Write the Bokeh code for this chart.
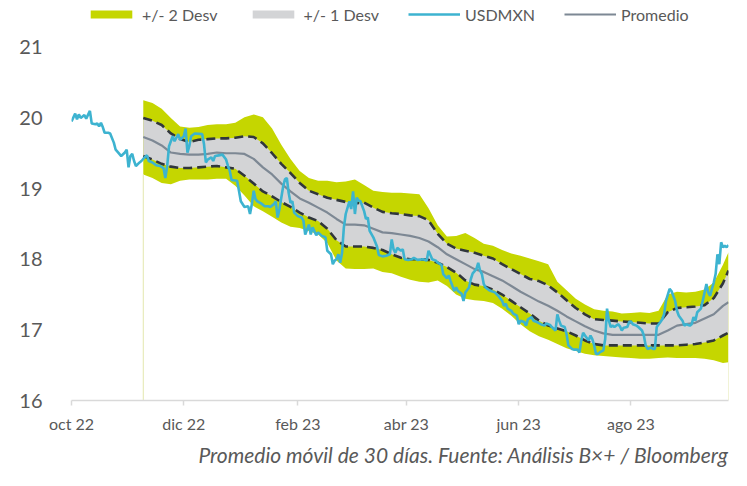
import pandas as pd
from bokeh.plotting import figure
from bokeh.models import Range1d, FixedTicker, Legend, LegendItem, Title
from bokeh.embed import file_html
from bokeh.resources import INLINE

# ---------------- data ----------------
usd_dates = [
    "2022-10-01", "2022-10-03", "2022-10-04", "2022-10-05", "2022-10-06", "2022-10-08", "2022-10-09", "2022-10-11",
    "2022-10-12", "2022-10-14", "2022-10-15", "2022-10-16", "2022-10-17", "2022-10-18", "2022-10-19", "2022-10-21",
    "2022-10-22", "2022-10-24", "2022-10-25", "2022-10-27", "2022-10-28", "2022-10-30", "2022-10-31",
    "2022-11-01", "2022-11-02", "2022-11-03", "2022-11-04", "2022-11-05", "2022-11-07", "2022-11-08", "2022-11-10",
    "2022-11-11", "2022-11-12", "2022-11-14", "2022-11-16", "2022-11-18", "2022-11-20", "2022-11-21", "2022-11-22",
    "2022-11-23", "2022-11-25", "2022-11-26", "2022-11-28", "2022-11-29",
    "2022-12-01", "2022-12-02", "2022-12-03", "2022-12-04", "2022-12-05", "2022-12-07", "2022-12-11", "2022-12-12",
    "2022-12-13", "2022-12-14", "2022-12-16", "2022-12-17", "2022-12-18", "2022-12-20", "2022-12-22", "2022-12-24",
    "2022-12-25", "2022-12-26", "2022-12-27", "2022-12-30", "2022-12-31",
    "2023-01-01", "2023-01-03", "2023-01-05", "2023-01-06", "2023-01-07", "2023-01-08", "2023-01-09", "2023-01-10",
    "2023-01-12", "2023-01-14", "2023-01-16", "2023-01-17", "2023-01-19", "2023-01-20", "2023-01-21", "2023-01-22",
    "2023-01-24", "2023-01-25", "2023-01-26", "2023-01-27", "2023-01-28", "2023-01-29", "2023-01-30",
    "2023-02-01", "2023-02-03", "2023-02-04", "2023-02-05", "2023-02-07", "2023-02-08", "2023-02-09", "2023-02-11",
    "2023-02-12", "2023-02-14", "2023-02-16", "2023-02-17", "2023-02-19", "2023-02-20", "2023-02-21", "2023-02-22",
    "2023-02-23", "2023-02-24", "2023-02-25", "2023-02-26", "2023-02-27",
    "2023-03-01", "2023-03-02", "2023-03-03", "2023-03-04", "2023-03-05", "2023-03-06", "2023-03-07", "2023-03-09",
    "2023-03-10", "2023-03-11", "2023-03-12", "2023-03-14", "2023-03-16", "2023-03-17", "2023-03-19", "2023-03-21",
    "2023-03-23", "2023-03-24", "2023-03-25", "2023-03-26", "2023-03-27", "2023-03-29", "2023-03-30", "2023-03-31",
    "2023-04-02", "2023-04-04", "2023-04-05", "2023-04-07", "2023-04-10", "2023-04-12", "2023-04-13", "2023-04-15",
    "2023-04-17", "2023-04-18", "2023-04-20", "2023-04-21", "2023-04-23", "2023-04-24", "2023-04-25", "2023-04-27",
    "2023-04-28", "2023-04-29",
    "2023-05-01", "2023-05-02", "2023-05-03", "2023-05-05", "2023-05-06", "2023-05-07", "2023-05-09", "2023-05-10",
    "2023-05-11", "2023-05-12", "2023-05-13", "2023-05-14", "2023-05-16", "2023-05-17", "2023-05-19", "2023-05-21",
    "2023-05-23", "2023-05-24", "2023-05-25", "2023-05-26", "2023-05-28", "2023-05-29", "2023-05-31",
    "2023-06-01", "2023-06-02", "2023-06-04", "2023-06-05", "2023-06-06", "2023-06-08", "2023-06-09", "2023-06-11",
    "2023-06-13", "2023-06-15", "2023-06-16", "2023-06-18", "2023-06-19", "2023-06-21", "2023-06-22", "2023-06-23",
    "2023-06-24", "2023-06-26", "2023-06-27", "2023-06-28", "2023-06-30",
    "2023-07-01", "2023-07-03", "2023-07-04", "2023-07-05", "2023-07-06", "2023-07-07", "2023-07-09", "2023-07-10",
    "2023-07-11", "2023-07-12", "2023-07-13", "2023-07-14", "2023-07-15", "2023-07-17", "2023-07-18", "2023-07-19",
    "2023-07-20", "2023-07-21", "2023-07-22", "2023-07-23", "2023-07-25", "2023-07-26", "2023-07-27", "2023-07-28",
    "2023-07-30", "2023-07-31",
    "2023-08-01", "2023-08-02", "2023-08-04", "2023-08-05", "2023-08-07", "2023-08-08", "2023-08-09", "2023-08-10",
    "2023-08-12", "2023-08-13", "2023-08-14", "2023-08-15", "2023-08-17", "2023-08-18", "2023-08-19", "2023-08-20",
    "2023-08-22", "2023-08-23", "2023-08-25", "2023-08-26", "2023-08-27", "2023-08-29", "2023-08-30", "2023-08-31",
    "2023-09-02", "2023-09-03", "2023-09-04", "2023-09-05", "2023-09-06", "2023-09-08", "2023-09-09", "2023-09-11",
    "2023-09-12", "2023-09-13", "2023-09-14", "2023-09-15", "2023-09-16", "2023-09-17", "2023-09-18", "2023-09-19",
    "2023-09-20", "2023-09-21", "2023-09-22", "2023-09-23",
]
usd_vals = [
    19.95, 20.06, 19.98, 20.05, 20.00, 20.04, 19.99, 20.10, 19.92, 19.91, 19.92, 19.88, 19.93, 19.87, 19.79, 19.79,
    19.78, 19.65, 19.55, 19.49, 19.46, 19.51, 19.55,
    19.30, 19.46, 19.49, 19.39, 19.32, 19.37, 19.39, 19.45, 19.47, 19.39, 19.37, 19.33, 19.32, 19.29, 19.15, 19.32,
    19.60, 19.74, 19.67, 19.77, 19.69,
    19.74, 19.85, 19.51, 19.60, 19.74, 19.78, 19.77, 19.63, 19.37, 19.41, 19.44, 19.39, 19.46, 19.47, 19.48, 19.41,
    19.32, 19.25, 19.12, 19.11, 18.97,
    18.82, 18.74, 18.75, 18.64, 18.78, 18.97, 18.85, 18.82, 18.79, 18.75, 18.75, 18.74, 18.78, 18.82, 18.59, 18.71,
    19.03, 19.13, 19.15, 18.94, 18.80, 18.82, 18.66,
    18.61, 18.59, 18.55, 18.35, 18.49, 18.35, 18.45, 18.34, 18.38, 18.33, 18.31, 18.12, 18.07, 17.93, 17.98, 18.00,
    18.07, 17.95, 18.09, 18.45, 18.64,
    18.82, 18.71, 18.96, 18.64, 18.87, 18.83, 18.82, 18.68, 18.57, 18.59, 18.40, 18.31, 18.18, 18.06, 18.04, 18.05,
    18.07, 18.28, 18.14, 18.09, 18.16, 18.12, 18.14, 18.00,
    17.99, 18.00, 18.02, 17.99, 18.00, 17.98, 18.12, 18.00, 17.98, 17.95, 17.92, 17.79, 17.73, 17.77, 17.69, 17.55,
    17.60, 17.55,
    17.51, 17.41, 17.53, 17.60, 17.72, 17.80, 17.86, 17.95, 17.84, 17.79, 17.65, 17.60, 17.56, 17.55, 17.53, 17.48,
    17.41, 17.34, 17.37, 17.30, 17.27, 17.23, 17.20,
    17.08, 17.13, 17.11, 17.06, 17.15, 17.18, 17.13, 17.11, 17.08, 17.06, 17.09, 17.07, 17.04, 16.99, 17.22, 17.13,
    17.06, 17.04, 16.94, 16.78, 16.73,
    16.72, 16.72, 16.68, 16.85, 16.96, 16.92, 16.85, 16.92, 16.87, 16.78, 16.66, 16.66, 16.68, 16.71, 16.87, 17.30,
    17.13, 17.04, 17.06, 17.04, 17.08, 17.05, 16.99, 17.03, 17.04, 17.11,
    17.12, 17.08, 17.06, 17.04, 16.99, 16.92, 16.78, 16.73, 16.75, 16.73, 16.73, 17.04, 17.11, 17.15, 17.22, 17.41,
    17.58, 17.55, 17.41, 17.27, 17.20, 17.13, 17.06, 17.08,
    17.06, 17.08, 17.18, 17.13, 17.25, 17.30, 17.41, 17.65, 17.53, 17.48, 17.58, 17.67, 17.79, 18.07, 17.93, 18.24,
    18.17, 18.19, 18.17, 18.20,
]

band_dates = [
    "2022-11-09", "2022-11-14", "2022-11-19", "2022-11-24", "2022-11-29", "2022-12-04", "2022-12-09", "2022-12-14",
    "2022-12-19", "2022-12-24", "2022-12-29", "2023-01-03", "2023-01-08", "2023-01-13", "2023-01-18", "2023-01-23",
    "2023-01-28", "2023-02-02", "2023-02-07", "2023-02-12", "2023-02-17", "2023-02-22", "2023-02-27", "2023-03-04",
    "2023-03-09", "2023-03-14", "2023-03-19", "2023-03-24", "2023-03-29", "2023-04-03", "2023-04-08", "2023-04-13",
    "2023-04-18", "2023-04-23", "2023-04-28", "2023-05-03", "2023-05-08", "2023-05-13", "2023-05-18", "2023-05-23",
    "2023-05-28", "2023-06-02", "2023-06-07", "2023-06-12", "2023-06-17", "2023-06-22", "2023-06-27", "2023-07-02",
    "2023-07-07", "2023-07-12", "2023-07-17", "2023-07-22", "2023-07-27", "2023-08-01", "2023-08-06", "2023-08-11",
    "2023-08-16", "2023-08-21", "2023-08-26", "2023-08-31", "2023-09-05", "2023-09-10", "2023-09-15", "2023-09-20",
    "2023-09-23",
]
promedio = [
    19.73, 19.68, 19.61, 19.51, 19.49, 19.48, 19.48, 19.49, 19.51, 19.50,
    19.50, 19.49, 19.42, 19.30, 19.20, 19.07, 18.96, 18.86, 18.80, 18.73,
    18.66, 18.57, 18.49, 18.49, 18.48, 18.43, 18.38, 18.37, 18.35, 18.33,
    18.30, 18.25, 18.17, 18.07, 18.00, 17.93, 17.86, 17.82, 17.76, 17.70,
    17.62, 17.54, 17.47, 17.40, 17.34, 17.27, 17.19, 17.12, 17.05, 16.99,
    16.95, 16.93, 16.93, 16.93, 16.93, 16.93, 16.93, 16.99, 17.06, 17.08,
    17.10, 17.16, 17.22, 17.34, 17.39,
]
sup_1 = [
    20.00, 19.96, 19.90, 19.78, 19.70, 19.66, 19.69, 19.70, 19.71, 19.71,
    19.72, 19.74, 19.73, 19.64, 19.50, 19.35, 19.22, 19.08, 18.97, 18.92,
    18.87, 18.84, 18.81, 18.79, 18.80, 18.73, 18.67, 18.65, 18.64, 18.62,
    18.61, 18.55, 18.36, 18.22, 18.15, 18.12, 18.09, 18.05, 18.01, 17.93,
    17.86, 17.79, 17.72, 17.69, 17.63, 17.53, 17.42, 17.31, 17.22, 17.15,
    17.14, 17.13, 17.12, 17.11, 17.10, 17.09, 17.09, 17.25, 17.31, 17.32,
    17.33, 17.35, 17.45, 17.66, 17.84,
]
inf_1 = [
    19.46, 19.41, 19.35, 19.31, 19.29, 19.29, 19.30, 19.31, 19.32, 19.30,
    19.28, 19.18, 19.07, 18.96, 18.89, 18.81, 18.74, 18.66, 18.59, 18.54,
    18.43, 18.27, 18.18, 18.18, 18.18, 18.16, 18.13, 18.07, 18.02, 18.00,
    18.00, 17.99, 17.95, 17.89, 17.81, 17.70, 17.64, 17.62, 17.57, 17.50,
    17.41, 17.32, 17.23, 17.13, 17.06, 17.02, 16.98, 16.92, 16.85, 16.80,
    16.78, 16.78, 16.78, 16.78, 16.78, 16.78, 16.78, 16.78, 16.78, 16.79,
    16.80, 16.82, 16.85, 16.92, 16.96,
]
sup_2 = [
    20.25, 20.21, 20.13, 20.00, 19.88, 19.86, 19.87, 19.90, 19.91, 19.91,
    19.93, 20.01, 20.05, 20.01, 19.85, 19.62, 19.42, 19.25, 19.15, 19.11,
    19.11, 19.09, 19.10, 19.13, 19.05, 18.97, 18.95, 18.94, 18.94, 18.93,
    18.92, 18.72, 18.48, 18.32, 18.33, 18.37, 18.30, 18.22, 18.19, 18.13,
    18.08, 18.05, 18.01, 17.97, 17.93, 17.68, 17.56, 17.44, 17.36, 17.29,
    17.27, 17.26, 17.23, 17.24, 17.25, 17.24, 17.27, 17.50, 17.54, 17.53,
    17.54, 17.57, 17.67, 17.92, 18.10,
]
inf_2 = [
    19.20, 19.15, 19.08, 19.06, 19.11, 19.13, 19.13, 19.13, 19.14, 19.14,
    19.04, 18.90, 18.75, 18.68, 18.60, 18.52, 18.46, 18.44, 18.40, 18.35,
    18.23, 17.98, 17.87, 17.86, 17.86, 17.87, 17.82, 17.80, 17.75, 17.71,
    17.68, 17.67, 17.70, 17.62, 17.50, 17.44, 17.42, 17.41, 17.38, 17.30,
    17.20, 17.08, 16.98, 16.91, 16.86, 16.80, 16.74, 16.70, 16.66, 16.64,
    16.63, 16.62, 16.61, 16.60, 16.59, 16.59, 16.60, 16.61, 16.60, 16.60,
    16.60, 16.59, 16.57, 16.53, 16.54,
]

x_start, x_end = "2022-10-01", "2023-09-23"
tick_dates = ["2022-10-01", "2022-12-01", "2023-02-01", "2023-04-01", "2023-06-01", "2023-08-01"]
tick_labels = ["oct 22", "dic 22", "feb 23", "abr 23", "jun 23", "ago 23"]
y_ticks = [16, 17, 18, 19, 20, 21]
legend_labels = ["+/- 2 Desv", "+/- 1 Desv", "USDMXN", "Promedio"]
caption = "Promedio móvil de 30 días. Fuente: Análisis B×+ / Bloomberg"

# ---------------- style ----------------
FONT = "Lato"
GREEN = "#c5d600"
GRAY_BAND = "#d3d4d6"
BLUE = "#3db3d0"
MEAN = "#7d8894"
DASH = "#30363c"
TXT = "#595959"
AXIS = "#d9d9d9"

W, H = 731, 470
BORDER_L, BORDER_R, BORDER_B = 71, 3, 68
PX_PER_UNIT = 71.0

ud = pd.to_datetime(usd_dates)
bd = pd.to_datetime(band_dates)
y_min = y_ticks[0]
frame_h = H - BORDER_B
y_top = y_min + frame_h / PX_PER_UNIT   # frame reaches the top so the legend can sit there

p = figure(width=W, height=H, x_axis_type="datetime", output_backend="svg",
           toolbar_location=None,
           x_range=Range1d(pd.Timestamp(x_start), pd.Timestamp(x_end)),
           y_range=Range1d(y_min, y_top),
           min_border_left=BORDER_L, min_border_right=BORDER_R, min_border_top=0,
           min_border_bottom=BORDER_B)
p.outline_line_color = None
p.xgrid.visible = False
p.ygrid.visible = False
p.background_fill_color = "white"
p.border_fill_color = "white"

r2 = p.varea(x=bd, y1=inf_2, y2=sup_2, fill_color=GREEN)
p.segment(x0=[bd[0], bd[-1]], y0=[y_min, y_min], x1=[bd[0], bd[-1]], y1=[inf_2[0], inf_2[-1]],
          line_color="#e3e7ad", line_width=1)
r1 = p.varea(x=bd, y1=inf_1, y2=sup_1, fill_color=GRAY_BAND)
p.line(bd, sup_1, line_color=DASH, line_width=2.6, line_dash="9 5")
p.line(bd, inf_1, line_color=DASH, line_width=2.6, line_dash="9 5")
rm = p.line(bd, promedio, line_color=MEAN, line_width=2.2)
ru = p.line(ud, usd_vals, line_color=BLUE, line_width=2.6)

# axes
tick_ms = [float(t.value // 10**6) for t in pd.to_datetime(tick_dates)]
p.xaxis.ticker = FixedTicker(ticks=tick_ms)
p.xaxis.major_label_overrides = {t: l for t, l in zip(tick_ms, tick_labels)}
p.xaxis.axis_line_color = AXIS
p.xaxis.axis_line_width = 1.5
p.xaxis.major_tick_line_color = AXIS
p.xaxis.major_tick_line_width = 1.5
p.xaxis.major_tick_in = 0
p.xaxis.major_tick_out = 5
p.xaxis.minor_tick_line_color = None
p.xaxis.major_label_standoff = 8
p.xaxis.major_label_text_font = FONT
p.xaxis.major_label_text_font_size = "16px"
p.xaxis.major_label_text_color = TXT

p.yaxis.ticker = FixedTicker(ticks=y_ticks)
p.yaxis.axis_line_color = None
p.yaxis.major_tick_line_color = None
p.yaxis.minor_tick_line_color = None
p.yaxis.major_label_standoff = 23
p.yaxis.major_label_text_font = FONT
p.yaxis.major_label_text_font_size = "20px"
p.yaxis.major_label_text_color = TXT

legend = Legend(items=[LegendItem(label=legend_labels[0], renderers=[r2]),
                       LegendItem(label=legend_labels[1], renderers=[r1]),
                       LegendItem(label=legend_labels[2], renderers=[ru]),
                       LegendItem(label=legend_labels[3], renderers=[rm])],
                orientation="horizontal", location=(14, frame_h - 26),
                glyph_width=52, glyph_height=10, label_standoff=5, spacing=29,
                padding=0, margin=0, border_line_color=None, background_fill_alpha=0,
                label_text_font=FONT, label_text_font_size="16px", label_text_color=TXT,
                label_height=20)
p.add_layout(legend, "center")

p.add_layout(Title(text=caption, align="right", text_font=FONT, text_font_style="italic",
                   text_font_size="21px", text_color=TXT, standoff=8), "below")

open("out.html", "w").write(file_html(p, INLINE))
